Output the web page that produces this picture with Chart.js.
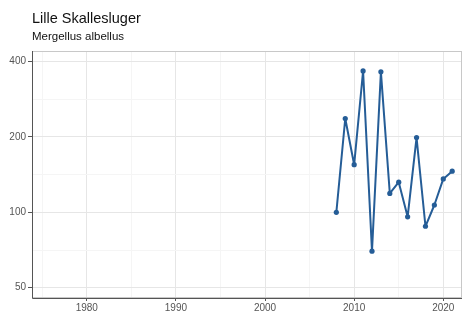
<!DOCTYPE html>
<html>
<head>
<meta charset="utf-8">
<script src="https://cdn.jsdelivr.net/npm/chart.js@4/dist/chart.umd.min.js"></script>
<style>
  body { margin: 0; background: #fff; }
  #wrap { width: 470px; height: 316px; position: relative; }
</style>
</head>
<body>
<div id="wrap"><canvas id="myChart" width="470" height="316"></canvas></div>
<script>
// counts per year
const years = [2008, 2009, 2010, 2011, 2012, 2013, 2014, 2015, 2016, 2017, 2018, 2019, 2020, 2021]
const counts = [100, 237, 155, 367, 70, 364, 119, 132, 96, 199, 88, 107, 136, 146]
const xMajor = [1980, 1990, 2000, 2010, 2020]
const xMinor = [1975, 1985, 1995, 2005, 2015]
const yMajor = [50, 100, 200, 400]
const yMinor = [70.7, 141.4, 282.8]

const titleText = 'Lille Skallesluger'
const subtitleText = 'Mergellus albellus'

const lineColor = '#255d97'

// titles + light panel outline
const decorations = {
  id: 'decorations',
  beforeDraw(chart) {
    const ctx = chart.ctx
    ctx.save()
    ctx.fillStyle = '#111'
    ctx.textBaseline = 'alphabetic'
    ctx.font = '14.5px "Liberation Sans", Arial, sans-serif'
    ctx.fillText(titleText, 32, 23)
    ctx.font = '11.5px "Liberation Sans", Arial, sans-serif'
    ctx.fillText(subtitleText, 32, 40)
    ctx.restore()
  },
  afterDatasetsDraw(chart) {
    const a = chart.chartArea
    const ctx = chart.ctx
    ctx.save()
    ctx.strokeStyle = '#c8c8c8'
    ctx.lineWidth = 1
    ctx.strokeRect(a.left + 0.5, a.top + 0.5, a.right - a.left - 1, a.bottom - a.top - 1)
    ctx.strokeStyle = '#555'
    ctx.beginPath()
    ctx.moveTo(a.left + 0.5, a.top)
    ctx.lineTo(a.left + 0.5, a.bottom + 0.5)
    ctx.lineTo(a.right, a.bottom + 0.5)
    ctx.stroke()
    ctx.restore()
  }
}

const isMajor = (list, v) => list.some(m => Math.abs(m - v) < 0.01)

new Chart(document.getElementById('myChart').getContext('2d'), {
  type: 'line',
  data: {
    datasets: [{
      data: years.map((y, i) => ({ x: y, y: counts[i] })),
      borderColor: lineColor,
      backgroundColor: lineColor,
      borderWidth: 2,
      borderJoinStyle: 'round',
      pointRadius: 2.6,
      pointBorderWidth: 0,
      tension: 0
    }]
  },
  options: {
    responsive: false,
    animation: false,
    layout: { padding: { left: 0, right: 8, top: 51, bottom: 0 } },
    plugins: { legend: { display: false }, tooltip: { enabled: false } },
    scales: {
      x: {
        type: 'linear',
        min: 1973.85,
        max: 2022.1,
        afterBuildTicks: (s) => { s.ticks = [...xMinor, ...xMajor].sort().map(v => ({ value: v })) },
        afterFit: (s) => { s.height = 18 },
        border: { display: false },
        grid: {
          color: (c) => isMajor(xMajor, c.tick.value) ? '#e6e6e6' : '#f5f5f5',
          tickColor: (c) => isMajor(xMajor, c.tick.value) ? '#555' : 'rgba(0,0,0,0)',
          tickLength: 3,
          lineWidth: 1
        },
        ticks: {
          autoSkip: false,
          maxRotation: 0,
          padding: 1,
          color: '#555',
          font: { size: 10, family: '"Liberation Sans", Arial, sans-serif' },
          callback: (v) => isMajor(xMajor, v) ? String(v) : ''
        }
      },
      y: {
        type: 'logarithmic',
        min: 45.5,
        max: 441,
        afterBuildTicks: (s) => { s.ticks = [...yMajor, ...yMinor].sort((a, b) => a - b).map(v => ({ value: v })) },
        afterFit: (s) => { s.width = 32 },
        border: { display: false },
        grid: {
          color: (c) => isMajor(yMajor, c.tick.value) ? '#e6e6e6' : '#f5f5f5',
          tickColor: (c) => isMajor(yMajor, c.tick.value) ? '#555' : 'rgba(0,0,0,0)',
          tickLength: 4,
          lineWidth: 1
        },
        ticks: {
          autoSkip: false,
          padding: 2,
          color: '#555',
          font: { size: 10, family: '"Liberation Sans", Arial, sans-serif' },
          callback: (v) => isMajor(yMajor, v) ? String(v) : ''
        }
      }
    }
  },
  plugins: [decorations]
})
</script>
</body>
</html>
